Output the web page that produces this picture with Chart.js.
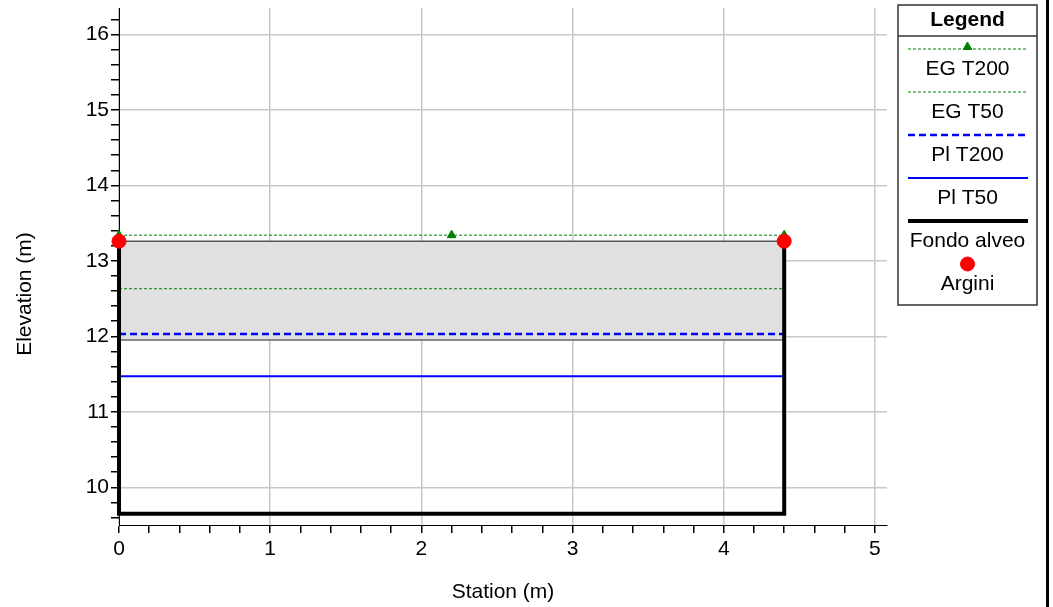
<!DOCTYPE html>
<html>
<head>
<meta charset="utf-8">
<script src="https://cdn.jsdelivr.net/npm/chart.js@4.4.1/dist/chart.umd.min.js"></script>
<style>
  html, body { margin: 0; padding: 0; background: #fff; }
  #wrap { width: 1053px; height: 607px; position: relative; }
</style>
</head>
<body>
<div id="wrap"><canvas id="chart"></canvas></div>
<script>
// ==============================
// data
// ==============================
const stations = [0, 4.4];
const egStations = [0, 2.2, 4.4];
const egT200 = 13.34;
const egT50 = 12.63;
const plT200 = 12.03;
const plT50 = 11.47;
const bankElev = 13.26;
const lidTop = 13.26;
const lidBottom = 11.95;
const bedStations = [0, 0, 4.4, 4.4];
const bedElev = [13.26, 9.65, 9.65, 13.26];

const legendTitle = "Legend";
const xTitle = "Station (m)";
const yTitle = "Elevation (m)";
const FONT = "'Liberation Sans', Arial, sans-serif";

const flat = (xs, y) => xs.map(x => ({ x, y }));

// ==============================
// legend + extras drawn on canvas
// ==============================
const boxLegend = {
    id: "boxLegend",
    afterDraw(chart) {
        const ctx = chart.ctx;
        ctx.save();

        // axis titles
        ctx.fillStyle = "#000";
        ctx.font = "21px " + FONT;
        ctx.textAlign = "center";
        ctx.textBaseline = "middle";
        const a = chart.chartArea;
        ctx.fillText(xTitle, (a.left + a.right) / 2, 592);
        ctx.save();
        ctx.translate(25, 294);
        ctx.rotate(-Math.PI / 2);
        ctx.fillText(yTitle, 0, 0);
        ctx.restore();

        // legend box
        const L = 898, R = 1037, T = 5, B = 305;
        ctx.strokeStyle = "#333";
        ctx.lineWidth = 1.5;
        ctx.strokeRect(L, T, R - L, B - T);
        ctx.beginPath();
        ctx.moveTo(L, 36);
        ctx.lineTo(R, 36);
        ctx.stroke();
        ctx.font = "bold 21px " + FONT;
        ctx.fillText(legendTitle, (L + R) / 2, 20);

        ctx.font = "21px " + FONT;
        const items = chart.data.datasets.filter(d => d.inLegend);
        items.forEach((ds, i) => {
            const ly = 49 + i * 43;
            const cx = (L + R) / 2;
            if (ds.showLine !== false) {
                ctx.beginPath();
                ctx.setLineDash(ds.borderDash || []);
                ctx.strokeStyle = ds.borderColor;
                ctx.lineWidth = ds.borderWidth;
                ctx.moveTo(908, ly);
                ctx.lineTo(1028, ly);
                ctx.stroke();
                ctx.setLineDash([]);
            }
            if (ds.pointRadius > 0) {
                ctx.fillStyle = ds.pointBackgroundColor;
                ctx.strokeStyle = ds.pointBorderColor;
                ctx.lineWidth = 1;
                Chart.helpers.drawPoint(ctx, {
                    pointStyle: ds.pointStyle,
                    radius: ds.pointRadius,
                    rotation: 0,
                    borderWidth: 1
                }, cx, ds.pointStyle === "triangle" ? ly - 2 : ly);
            }
            ctx.fillStyle = "#000";
            ctx.fillText(ds.label, cx, ly + 20);
        });

        // right edge bar
        ctx.fillStyle = "#000";
        ctx.fillRect(1046, 0, 3, 607);
        ctx.restore();
    }
};

// ==============================
// chart
// ==============================
const isMajor = v => Math.abs(v - Math.round(v)) < 1e-6;

new Chart(document.getElementById("chart"), {
    type: "scatter",
    data: {
        datasets: [
            {
                label: "lid top",
                data: flat(stations, lidTop),
                showLine: true,
                borderColor: "#555",
                borderWidth: 1.5,
                backgroundColor: "#e0e0e0",
                fill: "+1",
                pointRadius: 0,
                order: 10
            },
            {
                label: "lid bottom",
                data: flat(stations, lidBottom),
                showLine: true,
                borderColor: "#666",
                borderWidth: 1.5,
                pointRadius: 0,
                fill: false,
                order: 9
            },
            {
                label: "EG T200",
                inLegend: true,
                data: flat(egStations, egT200),
                showLine: true,
                borderColor: "#008000",
                borderWidth: 1,
                borderDash: [3, 2],
                pointStyle: "triangle",
                pointRadius: 5,
                pointBackgroundColor: "#008000",
                pointBorderColor: "#008000",
                order: 3
            },
            {
                label: "EG T50",
                inLegend: true,
                data: flat(stations, egT50),
                showLine: true,
                borderColor: "#008000",
                borderWidth: 1,
                borderDash: [3, 2],
                pointRadius: 0,
                order: 6
            },
            {
                label: "Pl T200",
                inLegend: true,
                data: flat(stations, plT200),
                showLine: true,
                borderColor: "#0000ff",
                borderWidth: 2.5,
                borderDash: [7, 4],
                pointRadius: 0,
                order: 5
            },
            {
                label: "Pl T50",
                inLegend: true,
                data: flat(stations, plT50),
                showLine: true,
                borderColor: "#0000ff",
                borderWidth: 2,
                pointRadius: 0,
                order: 5
            },
            {
                label: "Fondo alveo",
                inLegend: true,
                data: bedStations.map((x, i) => ({ x, y: bedElev[i] })),
                showLine: true,
                borderColor: "#000",
                borderWidth: 4,
                pointRadius: 0,
                order: 4
            },
            {
                label: "Argini",
                inLegend: true,
                data: flat(stations, bankElev),
                showLine: false,
                pointStyle: "circle",
                pointRadius: 7,
                pointBackgroundColor: "#ff0000",
                pointBorderColor: "#ff0000",
                order: 2
            }
        ]
    },
    options: {
        responsive: true,
        maintainAspectRatio: false,
        animation: false,
        datasets: { scatter: { clip: false } },
        layout: { padding: { top: 7, right: 166, left: 0, bottom: 0 } },
        plugins: {
            legend: { display: false },
            tooltip: { enabled: false }
        },
        scales: {
            x: {
                type: "linear",
                min: 0,
                max: 5.08,
                afterFit: s => {
                    s.height = 82;
                    s.paddingLeft = 0;
                    s.paddingRight = 0;
                },
                border: { color: "#000", width: 1 },
                grid: {
                    color: c => isMajor(c.tick.value) ? "#c8c8c8" : "transparent",
                    lineWidth: 1.5,
                    tickColor: "#000",
                    tickLength: 8
                },
                ticks: {
                    stepSize: 0.2,
                    includeBounds: false,
                    autoSkip: false,
                    maxRotation: 0,
                    padding: 4,
                    color: "#000",
                    font: { family: FONT, size: 21 },
                    callback: v => isMajor(v) ? String(Math.round(v)) : ""
                }
            },
            y: {
                type: "linear",
                min: 9.5,
                max: 16.35,
                afterFit: s => {
                    s.width = 119;
                    s.paddingTop = 0;
                    s.paddingBottom = 0;
                },
                border: { color: "#000", width: 1 },
                grid: {
                    color: c => isMajor(c.tick.value) ? "#c8c8c8" : "transparent",
                    lineWidth: 1.5,
                    tickColor: "#000",
                    tickLength: 8
                },
                ticks: {
                    stepSize: 0.2,
                    includeBounds: false,
                    autoSkip: false,
                    padding: 2,
                    color: "#000",
                    font: { family: FONT, size: 21 },
                    callback: v => isMajor(v) ? String(Math.round(v)) : ""
                }
            }
        }
    },
    plugins: [boxLegend]
});
</script>
</body>
</html>
